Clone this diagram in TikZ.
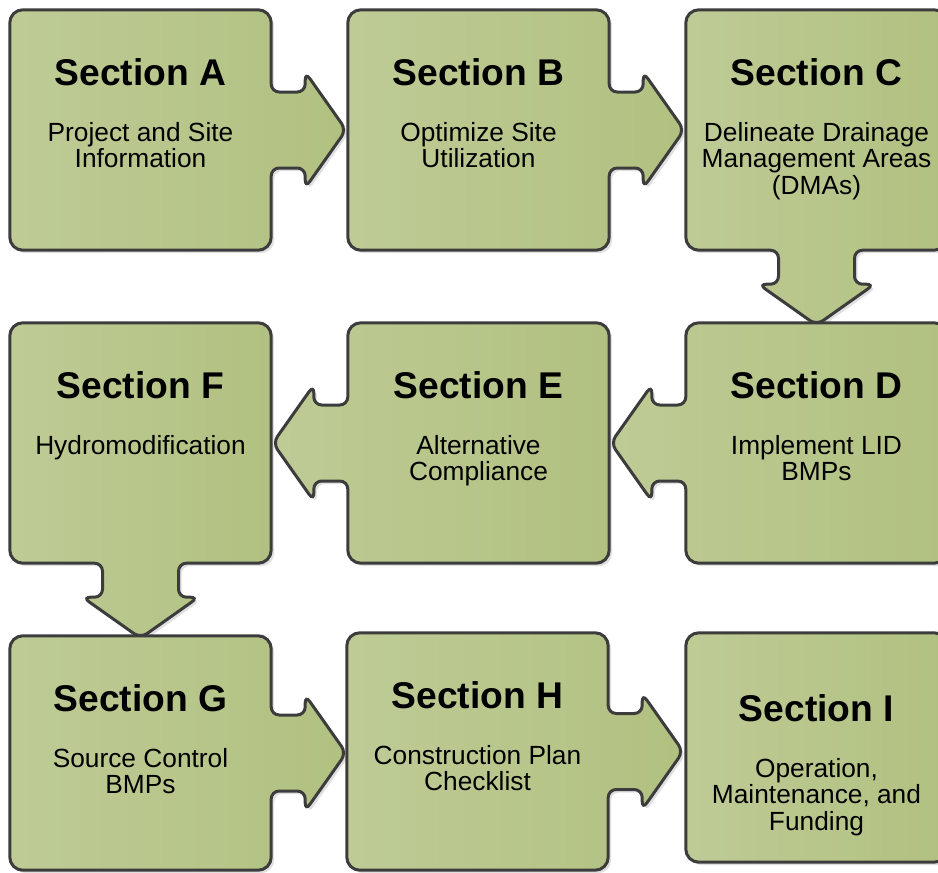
\documentclass[tikz,border=0pt]{standalone}
\usepackage{fontspec}
\setmainfont{Liberation Sans}
\usepackage{tikz}
\usetikzlibrary{calc,shadows}

\definecolor{pieceline}{HTML}{3C3C3C}
\definecolor{piecelight}{HTML}{BECB96}
\definecolor{piecedark}{HTML}{B1C180}

% one point of a tab: #1 anchor, (#2,#3) direction, #4 along, #5 across
\newcommand{\tabpoint}[5]{($(#1)+({(#4)*(#2)-(#5)*(#3)},{(#4)*(#3)+(#5)*(#2)})$)}
\newcommand{\puzzletab}[3]{[rounded corners=8pt]
  -- \tabpoint{#1}{#2}{#3}{0}{-38} -- \tabpoint{#1}{#2}{#3}{34}{-38}
  -- \tabpoint{#1}{#2}{#3}{34}{-58} -- \tabpoint{#1}{#2}{#3}{75}{0}
  -- \tabpoint{#1}{#2}{#3}{34}{58} -- \tabpoint{#1}{#2}{#3}{34}{38}
  -- \tabpoint{#1}{#2}{#3}{0}{38} [rounded corners=13pt]}

\begin{document}
\begin{tikzpicture}[x=1pt,y=-1pt]
        \tikzstyle{every node}=[inner sep=0pt]
        \tikzstyle{box}=[minimum width=261pt,minimum height=240pt]
        \tikzstyle{piece}=[draw=pieceline,line width=3pt,rounded corners=13pt,
            left color=piecelight,right color=piecedark,
            drop shadow={shadow xshift=3pt,shadow yshift=-3pt,fill=black,opacity=0.12}]
        \tikzstyle{head}=[anchor=base,font=\bfseries\fontsize{37.2}{40}\selectfont]
        \tikzstyle{body}=[anchor=north,align=center,font=\fontsize{26.3}{26.8}\selectfont]

            \useasboundingbox (0,0) rectangle (938,873);

            \node[box] (a) at (140.5,130) {};
            \node[box] (b) at (478.5,130) {};
            \node[box] (c) at (816.5,130) {};
            \node[box] (f) at (140.5,443) {};
            \node[box] (e) at (478.5,443) {};
            \node[box] (d) at (816.5,443) {};
            \node[box,minimum height=234pt] (g) at (140.5,753) {};
            \node[box,minimum height=237pt] (h) at (477.5,751.5) {};
            \node[box,minimum height=229pt] (i) at (816.5,747.5) {};

            \draw[piece] (a.north west) -- (a.north east) \puzzletab{a.east}{1}{0}
                -- (a.south east) -- (a.south west) -- cycle;
            \draw[piece] (b.north west) -- (b.north east) \puzzletab{b.east}{1}{0}
                -- (b.south east) -- (b.south west) -- cycle;
            \draw[piece] (c.north west) -- (c.north east) -- (c.south east)
                \puzzletab{c.south}{0}{1} -- (c.south west) -- cycle;
            \draw[piece] (d.north west) -- (d.north east) -- (d.south east)
                -- (d.south west) \puzzletab{d.west}{-1}{0} -- cycle;
            \draw[piece] (e.north west) -- (e.north east) -- (e.south east)
                -- (e.south west) \puzzletab{e.west}{-1}{0} -- cycle;
            \draw[piece] (f.north west) -- (f.north east) -- (f.south east)
                \puzzletab{f.south}{0}{1} -- (f.south west) -- cycle;
            \draw[piece] (g.north west) -- (g.north east) \puzzletab{g.east}{1}{0}
                -- (g.south east) -- (g.south west) -- cycle;
            \draw[piece] (h.north west) -- (h.north east) \puzzletab{h.east}{1}{0}
                -- (h.south east) -- (h.south west) -- cycle;
            \draw[piece] (i.north west) -- (i.north east) -- (i.south east)
                -- (i.south west) -- cycle;

            \node[head] (ha) at ([yshift=-76pt]a.north) {Section A};
            \node[body] (ba) at ([yshift=-112pt]a.north) {Project and Site\\Information};
            \node[head] (hb) at ([yshift=-76pt]b.north) {Section B};
            \node[body] (bb) at ([yshift=-112pt]b.north) {Optimize Site\\Utilization};
            \node[head] (hc) at ([yshift=-76pt]c.north) {Section C};
            \node[body] (bc) at ([yshift=-112pt]c.north) {Delineate Drainage\\Management Areas\\(DMAs)};
            \node[head] (hd) at ([yshift=-76pt]d.north) {Section D};
            \node[body] (bd) at ([yshift=-112pt]d.north) {Implement LID\\BMPs};
            \node[head] (he) at ([yshift=-76pt]e.north) {Section E};
            \node[body] (be) at ([yshift=-112pt]e.north) {Alternative\\Compliance};
            \node[head] (hf) at ([yshift=-76pt]f.north) {Section F};
            \node[body] (bf) at ([yshift=-112pt]f.north) {Hydromodification};
            \node[head] (hg) at ([yshift=-76pt]g.north) {Section G};
            \node[body] (bg) at ([yshift=-112pt]g.north) {Source Control\\BMPs};
            \node[head] (hh) at ([yshift=-76pt]h.north) {Section H};
            \node[body] (bh) at ([yshift=-112pt]h.north) {Construction Plan\\Checklist};
            \node[head] (hi) at ([yshift=-89pt]i.north) {Section I};
            \node[body] (bi) at ([yshift=-125pt]i.north) {Operation,\\Maintenance, and\\Funding};
        \end{tikzpicture}
\end{document}
